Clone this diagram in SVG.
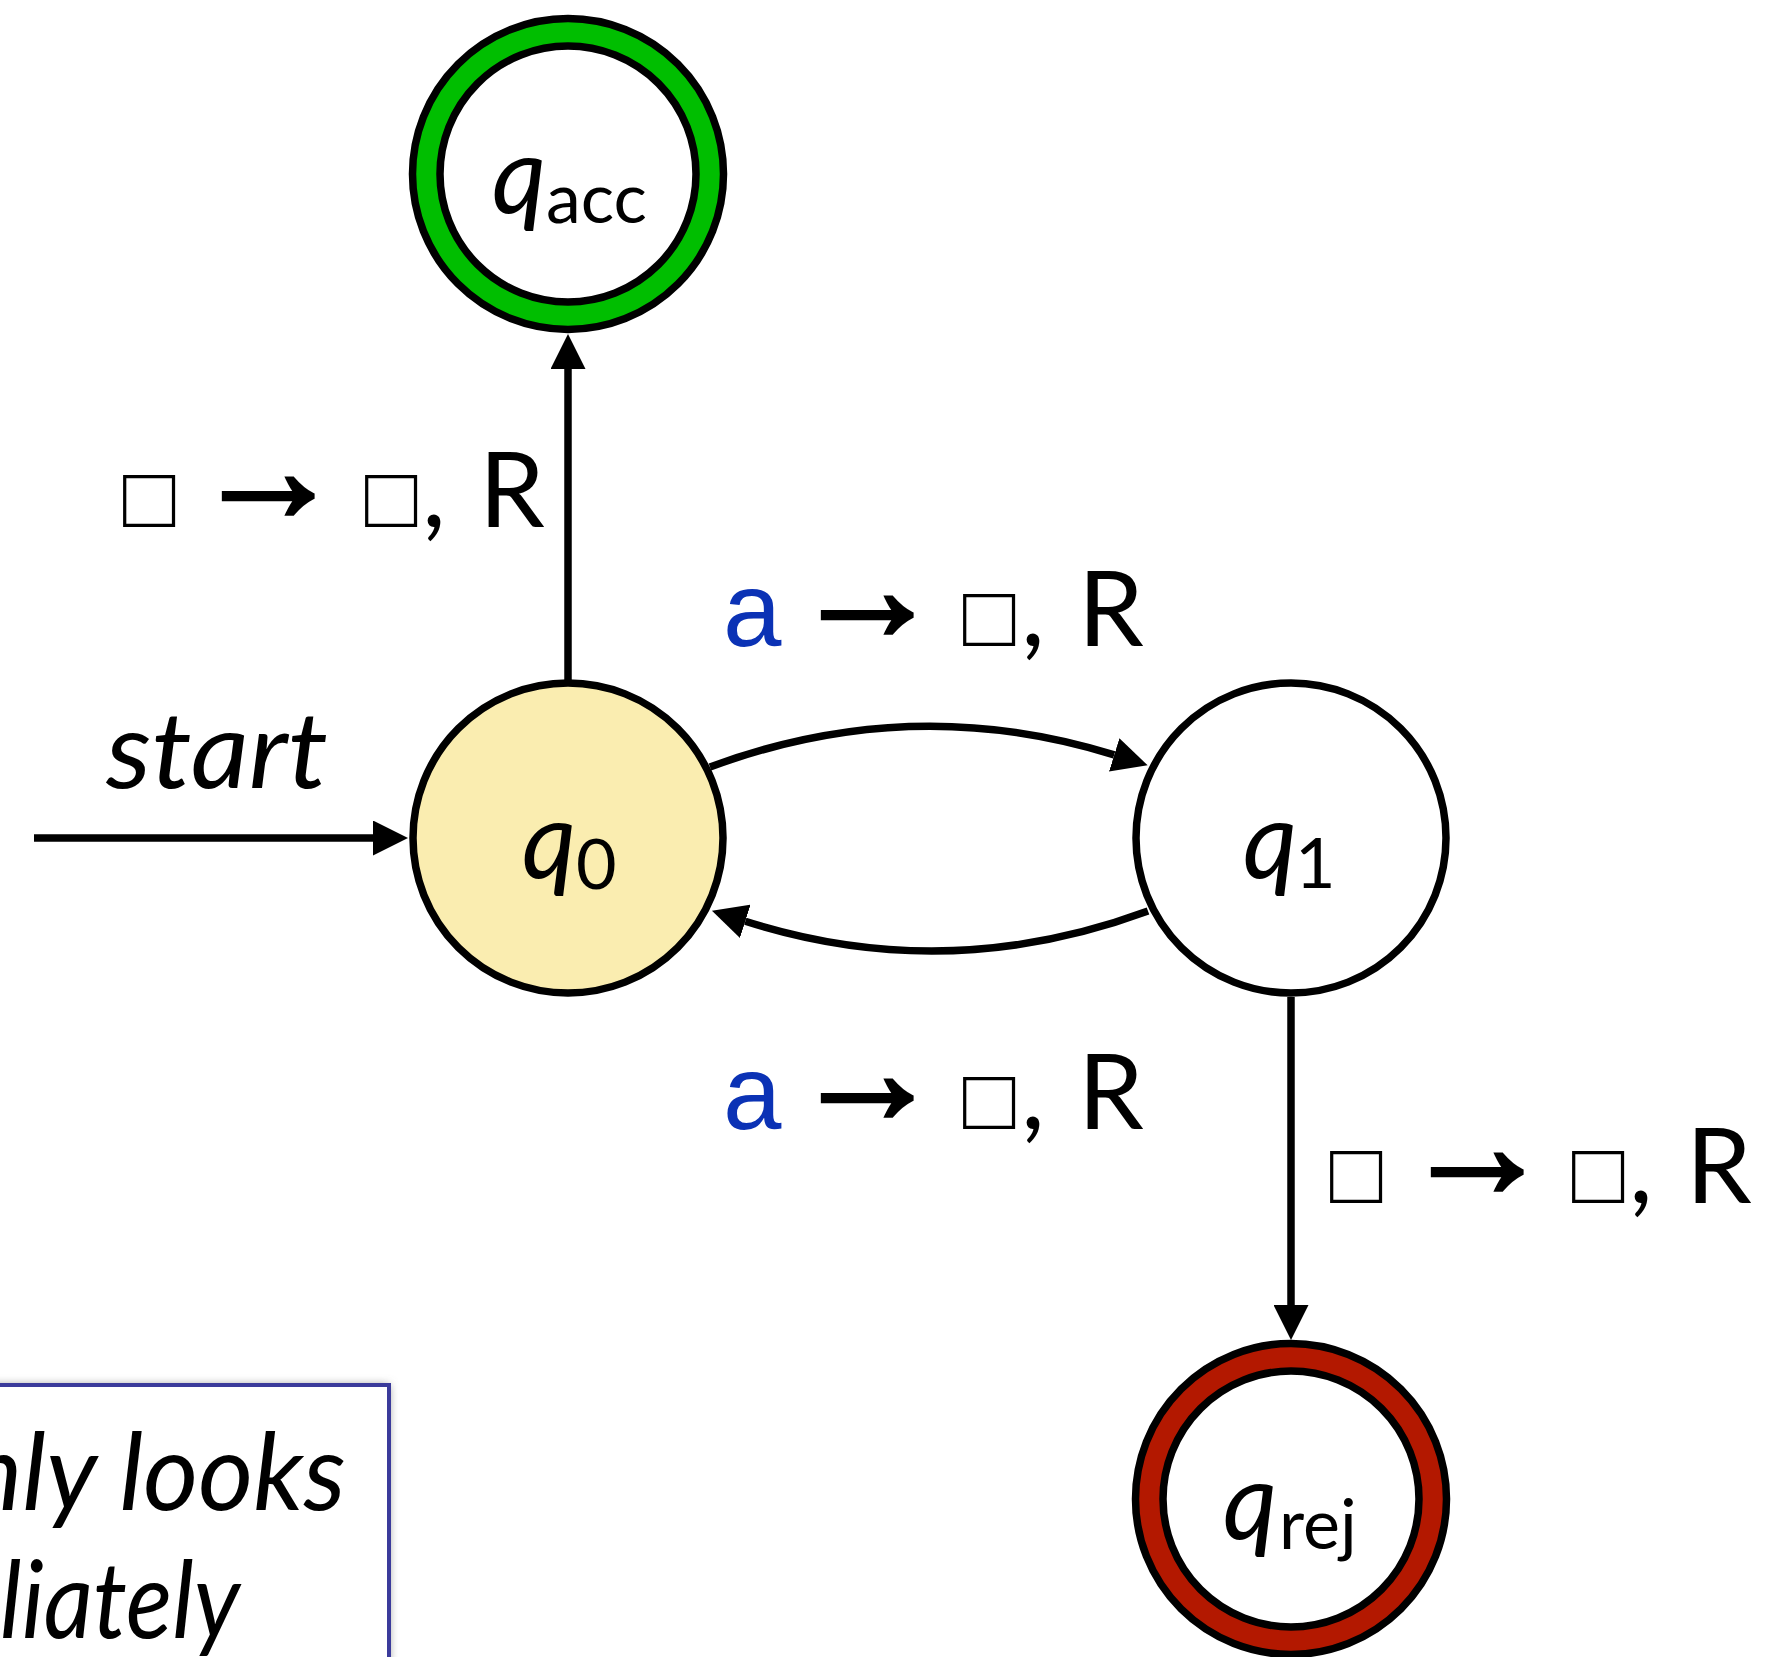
<svg xmlns="http://www.w3.org/2000/svg" width="1768" height="1657" viewBox="0 0 1768 1657">
  <style>
    .edge { fill: none; stroke: #000; stroke-width: 7.5; }
    .ring { stroke: #000; stroke-width: 7.5; }
    .qi { font-family: Lato, "Open Sans", sans-serif; font-style: italic; font-size: 106px; fill: #000; }
    .sub { font-family: Lato, "Open Sans", sans-serif; font-size: 70px; fill: #000; }
    .lbl { font-family: Lato, "Open Sans", sans-serif; font-size: 105px; fill: #000; }
    .box { font-family: "Liberation Sans", "DejaVu Sans", sans-serif; font-size: 87px; }
    .to { font-family: "Liberation Sans", "DejaVu Sans", sans-serif; font-size: 150px; stroke: #000; stroke-width: 4; }
    .sym-a { font-family: "Liberation Sans", sans-serif; font-size: 105px; fill: #0B32B5; }
    .note { font-family: Lato, "Open Sans", sans-serif; font-style: italic; font-size: 106px; fill: #000; }
  </style>
  <defs>
    <marker id="arrow" markerUnits="userSpaceOnUse" markerWidth="35" markerHeight="35" refX="0" refY="17.5" orient="auto">
      <path d="M0,0 L35,17.5 L0,35 z" fill="#000"/>
    </marker>
    <filter id="soft" x="-20%" y="-20%" width="140%" height="140%">
      <feGaussianBlur stdDeviation="5"/>
    </filter>
  </defs>

  <rect width="1768" height="1657" fill="#fff"/>

  <!-- transitions -->
  <g id="edges">
    <path class="edge" d="M34,838 L373,838" marker-end="url(#arrow)"/>
    <path class="edge" d="M568,680 L568,369" marker-end="url(#arrow)"/>
    <path class="edge" d="M710,767 Q912.1,692.1 1114.2,754.9" marker-end="url(#arrow)"/>
    <path class="edge" d="M1148,911 Q946.6,985.5 745.3,921.3" marker-end="url(#arrow)"/>
    <path class="edge" d="M1291,997 L1291,1305" marker-end="url(#arrow)"/>
  </g>

  <!-- edge labels -->
  <g id="labels">
    <text x="106" y="788" class="note" font-size="118" textLength="222" lengthAdjust="spacingAndGlyphs">start</text>
    <text class="lbl" y="527"><tspan class="box" x="123">□</tspan><tspan class="to" x="193" y="521">→</tspan><tspan class="box" x="365" y="527">□</tspan><tspan x="422">,</tspan><tspan x="479">R</tspan></text>
    <text class="lbl" y="646"><tspan class="sym-a" x="723">a</tspan><tspan class="to" x="792" y="640">→</tspan><tspan class="box" x="963" y="646">□</tspan><tspan x="1021">,</tspan><tspan x="1078">R</tspan></text>
    <text class="lbl" y="1129"><tspan class="sym-a" x="723">a</tspan><tspan class="to" x="792" y="1123">→</tspan><tspan class="box" x="963" y="1129">□</tspan><tspan x="1021">,</tspan><tspan x="1078">R</tspan></text>
    <text class="lbl" y="1203"><tspan class="box" x="1330">□</tspan><tspan class="to" x="1402" y="1197">→</tspan><tspan class="box" x="1572" y="1203">□</tspan><tspan x="1629">,</tspan><tspan x="1686">R</tspan></text>
  </g>

  <!-- states -->
  <g id="q-acc">
    <circle class="ring" cx="568" cy="174" r="155.5" fill="#00BE00"/>
    <circle class="ring" cx="568" cy="174" r="128" fill="#fff"/>
    <text x="492" y="213" class="qi">q</text>
    <text x="546" y="223" class="sub">acc</text>
  </g>
  <g id="q0">
    <circle class="ring" cx="568" cy="838" r="155" fill="#FAEDB0"/>
    <text x="522" y="878" class="qi">q</text>
    <text x="576" y="889" class="sub">0</text>
  </g>
  <g id="q1">
    <circle class="ring" cx="1291" cy="838" r="155" fill="#fff"/>
    <text x="1243" y="878" class="qi">q</text>
    <text x="1295" y="888" class="sub">1</text>
  </g>
  <g id="q-rej">
    <circle class="ring" cx="1291" cy="1499" r="155.5" fill="#B31800"/>
    <circle class="ring" cx="1291" cy="1499" r="128" fill="#fff"/>
    <text x="1223" y="1539" class="qi">q</text>
    <text x="1279" y="1549" class="sub">rej</text>
  </g>

  <!-- note box -->
  <g id="note">
    <rect x="-30" y="1385" width="419" height="320" fill="#888" filter="url(#soft)"/>
    <rect x="-30" y="1385" width="419" height="320" fill="#fff" stroke="#3B3B9B" stroke-width="4"/>
    <text x="346" y="1510" class="note" text-anchor="end">nly looks</text>
    <text x="0" y="1638" class="note" textLength="240" lengthAdjust="spacingAndGlyphs">liately</text>
  </g>
</svg>
